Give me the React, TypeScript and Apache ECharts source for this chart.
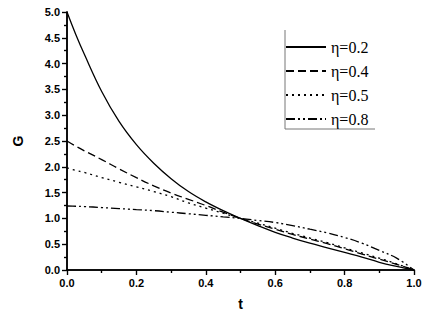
import React, { useEffect, useRef } from "react";
import * as echarts from "echarts";

const T = [0, 0.025, 0.05, 0.1, 0.15, 0.2, 0.25, 0.3, 0.35, 0.4, 0.45, 0.5, 0.55, 0.6, 0.65, 0.7, 0.75, 0.8, 0.85, 0.9, 0.95, 1.0];
const G02 = [5.0, 4.57, 4.18, 3.46, 2.88, 2.43, 2.07, 1.77, 1.52, 1.32, 1.15, 1.0, 0.86, 0.73, 0.62, 0.52, 0.43, 0.34, 0.25, 0.15, 0.07, 0.0];
const G04 = [2.5, 2.4, 2.31, 2.14, 1.96, 1.79, 1.63, 1.49, 1.37, 1.25, 1.12, 1.0, 0.89, 0.79, 0.69, 0.6, 0.51, 0.41, 0.31, 0.21, 0.11, 0.0];
const G05 = [1.98, 1.93, 1.89, 1.79, 1.7, 1.61, 1.52, 1.42, 1.3, 1.2, 1.1, 1.0, 0.91, 0.81, 0.71, 0.62, 0.53, 0.43, 0.33, 0.23, 0.12, 0.0];
const G08 = [1.24, 1.235, 1.23, 1.21, 1.19, 1.17, 1.15, 1.12, 1.09, 1.06, 1.03, 1.0, 0.96, 0.92, 0.86, 0.79, 0.72, 0.63, 0.52, 0.38, 0.23, 0.0];
const NAMES = ["η=0.2", "η=0.4", "η=0.5", "η=0.8"];
const X_TICKS = [0, 0.2, 0.4, 0.6, 0.8, 1.0];
const Y_TICKS = [0, 0.5, 1, 1.5, 2, 2.5, 3, 3.5, 4, 4.5, 5];

const pairs = (g: number[]) => T.map((t, i) => [t, g[i]]);

export default function App() {
  const ref = useRef<HTMLDivElement>(null);
  useEffect(() => {
    if (!ref.current) return;
    const chart = echarts.init(ref.current, null, { renderer: "svg" });
    const labelFont = { fontFamily: "Liberation Sans", fontWeight: "bold" as const, fontSize: 11, color: "#000" };
    const axisLine = { show: true, lineStyle: { color: "#000", width: 1.5 } };
    const mkX = (pos: "top" | "bottom") => ({
      type: "value",
      position: pos,
      min: X_TICKS[0],
      max: X_TICKS[X_TICKS.length - 1],
      interval: 0.2,
      axisLine,
      axisTick: { show: true, inside: pos === "top", length: 5, lineStyle: { color: "#000", width: 1.2 } },
      minorTick: { show: true, splitNumber: 2, length: 3, lineStyle: { color: "#000", width: 1.2 } },
      splitLine: { show: false },
      axisLabel: pos === "bottom" ? { ...labelFont, margin: 7, formatter: (v: number) => v.toFixed(1) } : { show: false },
      name: pos === "bottom" ? "t" : "",
      nameLocation: "middle",
      nameGap: 27,
      nameTextStyle: { fontFamily: "Liberation Sans", fontWeight: "bold", fontSize: 14, color: "#000" },
    });
    const mkY = (pos: "left" | "right") => ({
      type: "value",
      position: pos,
      min: Y_TICKS[0],
      max: Y_TICKS[Y_TICKS.length - 1],
      interval: 0.5,
      axisLine,
      axisTick: { show: true, inside: pos === "right", length: 5, lineStyle: { color: "#000", width: 1.2 } },
      minorTick: { show: true, splitNumber: 2, length: 3, lineStyle: { color: "#000", width: 1.2 } },
      splitLine: { show: false },
      axisLabel: pos === "left" ? { ...labelFont, margin: 7, formatter: (v: number) => v.toFixed(1) } : { show: false },
      name: pos === "left" ? "G" : "",
      nameLocation: "middle",
      nameGap: 42,
      nameTextStyle: { fontFamily: "Liberation Sans", fontWeight: "bold", fontSize: 14, color: "#000" },
    });
    const dashes: any[] = ["solid", [8, 4], [2, 4], [9, 3, 2, 3, 2, 3]];
    const data = [G02, G04, G05, G08];
    chart.setOption({
      animation: false,
      backgroundColor: "#fff",
      grid: { left: 67, right: 22, top: 12, bottom: 55 },
      xAxis: [mkX("bottom"), mkX("top")],
      yAxis: [mkY("left"), mkY("right")],
      legend: {
        orient: "vertical",
        left: 285,
        top: 39,
        itemWidth: 40,
        itemHeight: 10,
        itemGap: 8,
        padding: 0,
        itemStyle: { opacity: 0 },
        textStyle: { fontFamily: "Liberation Serif", fontSize: 16, color: "#000" },
        data: NAMES,
      },
      graphic: [
        { type: "line", shape: { x1: 285, y1: 30, x2: 285, y2: 129 }, style: { stroke: "#777", lineWidth: 1 } },
        { type: "line", shape: { x1: 285, y1: 129, x2: 375, y2: 129 }, style: { stroke: "#777", lineWidth: 1 } },
      ],
      series: NAMES.map((n, i) => ({
        name: n,
        type: "line",
        xAxisIndex: 0,
        yAxisIndex: 0,
        data: pairs(data[i]),
        showSymbol: false,
        symbol: "none",
        smooth: 0.4,
        lineStyle: { color: "#000", width: 1.3, type: dashes[i] },
        itemStyle: { color: "#000" },
      })),
    });
    return () => chart.dispose();
  }, []);
  return <div ref={ref} style={{ position: "fixed", left: 0, top: 0, width: 436, height: 325 }} />;
}
